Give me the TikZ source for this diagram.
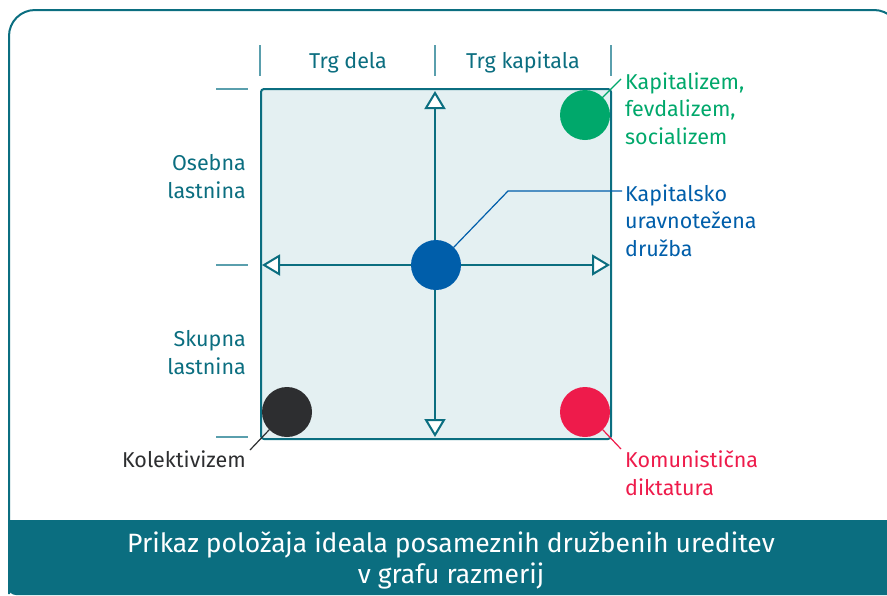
\documentclass[tikz,border=0pt]{standalone}
\usepackage{fontspec}
\setmainfont{Fira Sans}
\usetikzlibrary{arrows.meta}

\definecolor{ecteal}{HTML}{0B6E80}
\definecolor{ectick}{HTML}{5A9FAD}
\definecolor{ecfill}{HTML}{E4F0F2}
\definecolor{ecgreen}{HTML}{00A86B}
\definecolor{ecblue}{HTML}{005EAA}
\definecolor{ecred}{HTML}{EE1B4B}
\definecolor{ecdark}{HTML}{2D2E30}

\begin{document}
\begin{tikzpicture}[x=1pt,y=-1pt,
    kljukica/.style={ectick, line width=1.2pt},
    os/.style={ecteal, line width=2pt,
      {Triangle[open,fill=white,length=18pt,width=21pt]}-{Triangle[open,fill=white,length=18pt,width=21pt]}},
    pika/.style={circle, minimum size=50pt, inner sep=0pt},
    oznaka/.style={font=\fontsize{21.5}{27.5}\selectfont, inner sep=0pt},
    vodilo/.style={line width=1.2pt}]
    \useasboundingbox (0,0) rectangle (887,595);
    \clip (0,0) rectangle (887,595);

    % Okvir
    \draw[ecteal, line width=2pt, rounded corners=26pt] (9,594) -- (9,10) -- (900,10) -- (900,594);
    % Spodnji pas
    \fill[ecteal, rounded corners=8pt] (8,520) -- (8,595) -- (900,595) -- (900,520) [sharp corners] -- cycle;

    % Kvadrat
    \draw[ecteal, line width=2pt, fill=ecfill, rounded corners=3pt] (261,89) rectangle (611,439);

    % Kljukice
    \foreach \x in {260,435,611}
      \draw[kljukica] (\x,45) -- (\x,76);
    \foreach \y in {89,265,437}
      \draw[kljukica] (216,\y) -- (248,\y);

    % Osi
    \coordinate (zgoraj) at (435,91);
    \coordinate (spodaj) at (435,437);
    \coordinate (levo) at (262,265);
    \coordinate (desno) at (610,265);
    \draw[os] (zgoraj) -- (spodaj);
    \draw[os] (levo) -- (desno);

    % Napisi osi (base = zadnja vrstica)
    \node[oznaka, text=ecteal, anchor=base] (trgdela) at (348,68) {Trg dela};
    \node[oznaka, text=ecteal, anchor=base] (trgkap) at (523,68) {Trg kapitala};
    \node[oznaka, text=ecteal, anchor=base east, align=right] (osebna) at (246,198) {Osebna\\lastnina};
    \node[oznaka, text=ecteal, anchor=base east, align=right] (skupna) at (246,374) {Skupna\\lastnina};

    % Pike
    \node[pika, fill=ecgreen] (kapital) at (585,115) {};
    \node[pika, fill=ecblue] (sredina) at (436,265) {};
    \node[pika, fill=ecdark] (kolekt) at (287,412) {};
    \node[pika, fill=ecred] (komun) at (585,412) {};

    % Oznake pik
    \node[oznaka, text=ecgreen, anchor=base west, align=left] (kapitallbl) at (625,144) {Kapitalizem,\\fevdalizem,\\socializem};
    \node[oznaka, text=ecblue, anchor=base west, align=left] (sredinalbl) at (625,256) {Kapitalsko\\uravnotežena\\družba};
    \node[oznaka, text=ecdark, anchor=base east] (kolektlbl) at (246,467) {Kolektivizem};
    \node[oznaka, text=ecred, anchor=base west, align=left] (komunlbl) at (625,495) {Komunistična\\diktatura};

    % Vodila
    \coordinate (kapitalkonec) at (621,79);
    \coordinate (lomljenje) at (508,191);
    \coordinate (sredinakonec) at (622,191);
    \coordinate (kolektkonec) at (250,450);
    \coordinate (komunkonec) at (621,449);
    \draw[vodilo, ecgreen] (kapital.center) -- (kapitalkonec);
    \draw[vodilo, ecblue] (sredina.45) -- (lomljenje) -- (sredinakonec);
    \draw[vodilo, ecdark] (kolekt.225) -- (kolektkonec);
    \draw[vodilo, ecred] (komun.315) -- (komunkonec);

    % Naslov
    \node[font=\fontsize{26.5}{31}\selectfont, text=white, align=center, anchor=base] (naslov) at (451,583)
      {Prikaz položaja ideala posameznih družbenih ureditev\\v grafu razmerij};
\end{tikzpicture}
\end{document}
